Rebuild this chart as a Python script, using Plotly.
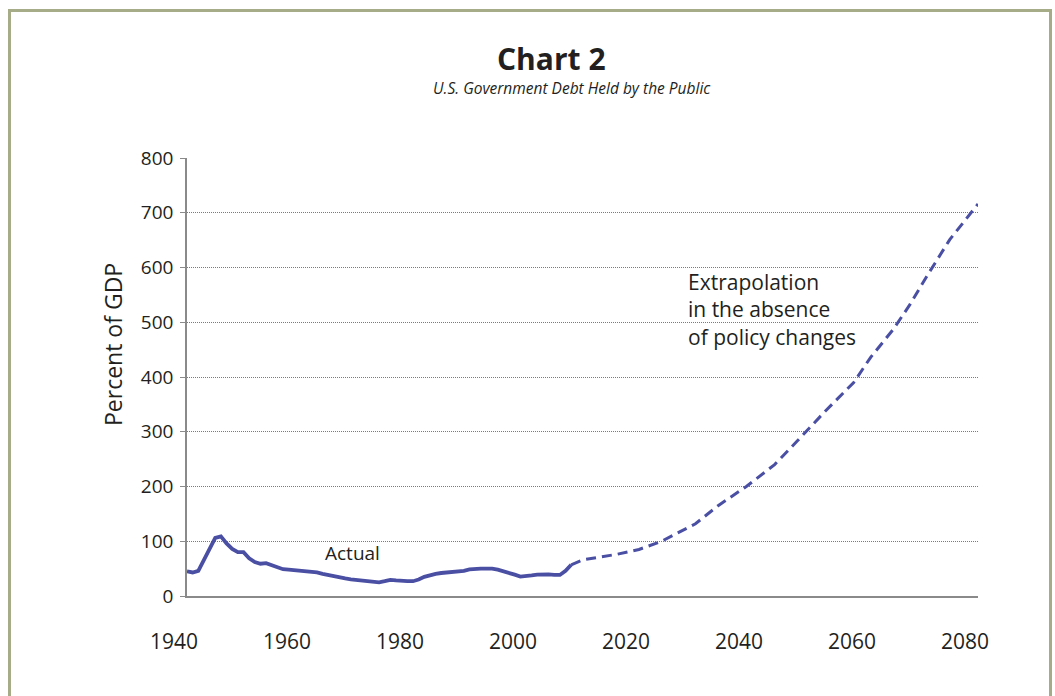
import plotly.graph_objects as go

# ---------------- data ----------------
actual_years = list(range(1940, 2009))
actual_values = [45, 43, 46, 67, 86, 106, 109, 96, 86, 80,
                 80, 69, 62, 59, 60, 56, 52, 49, 48, 47,
                 46, 45.5, 44.5, 43, 40.5, 38, 35.5, 33.5, 32, 30.5,
                 29.5, 29, 28, 26.5, 25, 27, 29.5, 28.5, 27, 27,
                 27, 30, 35, 38, 40.5, 42, 43, 43.5, 44, 46,
                 48.5, 50, 50, 50, 50, 48, 45.5, 43, 39, 35.5,
                 36, 37.5, 39, 40, 39.5, 38.5, 38.5, 46, 57]

proj_years = [2008, 2010, 2013, 2016, 2020, 2024, 2030, 2034, 2039, 2044,
              2048, 2053, 2058, 2061, 2065, 2068, 2071, 2075, 2080]
proj_values = [57, 66, 71, 76, 85, 100, 132, 165, 200, 240,
               283, 338, 390, 436, 487, 533, 585, 651, 716]

x_tick_vals = [1940, 1960, 1980, 2000, 2020, 2040, 2060, 2080]
x_tick_text = ["1940", "1960", "1980", "2000", "2020", "2040", "2060", "2080"]
y_tick_vals = [0, 100, 200, 300, 400, 500, 600, 700, 800]
y_tick_text = ["0", "100", "200", "300", "400", "500", "600", "700", "800"]

title_text = "Chart 2"
subtitle_text = "U.S. Government Debt Held by the Public"
y_title_text = "Percent of GDP"
actual_label = "Actual"
extrap_lines = ["Extrapolation", "in the absence", "of policy changes"]

# ---------------- style ----------------
LINE_COLOR = "#4a4fa4"
TEXT_COLOR = "#231f20"
AXIS_COLOR = "#8a8a8a"
BORDER_COLOR = "#a7ac88"
FONT = "Open Sans, Noto Sans, sans-serif"

fig = go.Figure()
fig.add_trace(go.Scatter(x=actual_years, y=actual_values, mode="lines",
                         line=dict(color=LINE_COLOR, width=3.8),
                         hoverinfo="skip", showlegend=False))
fig.add_trace(go.Scatter(x=proj_years, y=proj_values, mode="lines",
                         line=dict(color=LINE_COLOR, width=3, dash="10px,6px"),
                         hoverinfo="skip", showlegend=False, cliponaxis=False))

W, H = 1055, 696
L, R, T, B = 187, 77, 158, 100
pw, ph = W - L - R, H - T - B


def px_x(p):
    return (p - L) / pw


def px_y(p):
    return 1 - (p - T) / ph


fig.update_layout(
    width=W, height=H,
    margin=dict(l=L, r=R, t=T, b=B, pad=0),
    paper_bgcolor="white", plot_bgcolor="white",
    font=dict(family=FONT, color=TEXT_COLOR),
    showlegend=False,
)

fig.update_xaxes(
    range=[1940, 2080], tickmode="array",
    tickvals=x_tick_vals, ticktext=x_tick_text,
    showgrid=False, zeroline=False,
    showline=True, linecolor=AXIS_COLOR, linewidth=1.5,
    ticks="", ticklabelstandoff=26, ticklabelshift=-13,
    tickfont=dict(family=FONT, size=21, color=TEXT_COLOR),
)
fig.update_yaxes(
    range=[0, 800], tickmode="array",
    tickvals=y_tick_vals, ticktext=y_tick_text,
    showgrid=True, gridcolor="#7a7a7a", gridwidth=1, griddash="1px,1px",
    zeroline=False,
    showline=True, linecolor=AXIS_COLOR, linewidth=1.5,
    ticks="outside", ticklen=5, tickcolor=AXIS_COLOR, tickwidth=1,
    ticklabelstandoff=3,
    tickfont=dict(family=FONT, size=19, color=TEXT_COLOR),
)

annotations = [
    dict(text="<b>" + title_text + "</b>", xref="paper", yref="paper",
         x=px_x(551), y=px_y(58), xanchor="center", yanchor="middle",
         showarrow=False, font=dict(family=FONT, size=30, color=TEXT_COLOR)),
    dict(text="<i>" + subtitle_text + "</i>", xref="paper", yref="paper",
         x=px_x(572), y=px_y(88), xanchor="center", yanchor="middle",
         showarrow=False, font=dict(family=FONT, size=15.5, color=TEXT_COLOR)),
    dict(text=y_title_text, xref="paper", yref="paper",
         x=px_x(113), y=px_y(345), xanchor="center", yanchor="middle",
         textangle=-90, showarrow=False,
         font=dict(family=FONT, size=23, color=TEXT_COLOR)),
    dict(text=actual_label, xref="x", yref="y", x=1964, y=79,
         xanchor="left", yanchor="middle", showarrow=False,
         font=dict(family=FONT, size=19, color=TEXT_COLOR)),
    dict(text="<br>".join(extrap_lines), xref="x", yref="y",
         x=2028.3, y=524, xanchor="left", yanchor="middle", align="left",
         showarrow=False,
         font=dict(family=FONT, size=21, color=TEXT_COLOR)),
]
fig.update_layout(annotations=annotations)

# outer frame (no bottom edge visible)
fig.add_shape(type="rect", xref="paper", yref="paper",
              x0=px_x(9.5), x1=px_x(1050.5), y0=px_y(710), y1=px_y(10.5),
              line=dict(color=BORDER_COLOR, width=3), fillcolor="rgba(0,0,0,0)",
              layer="below")

fig.write_html("out.html",
               config={"displayModeBar": False},
               post_script="document.body.style.margin='0';"
                           "document.body.style.overflow='hidden';")
